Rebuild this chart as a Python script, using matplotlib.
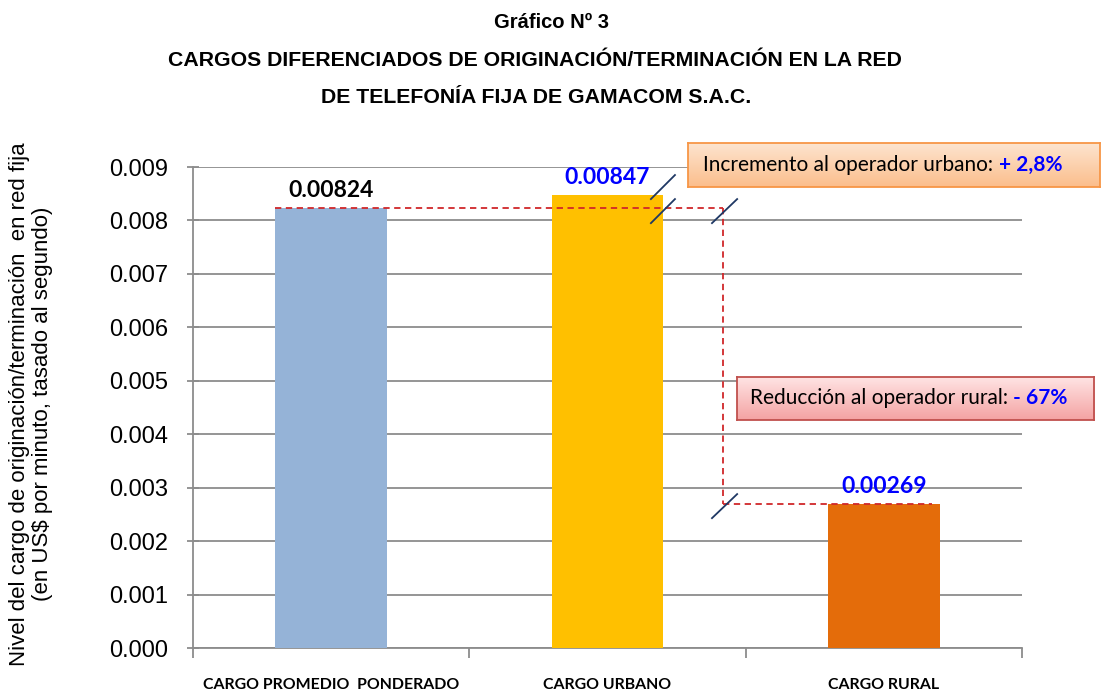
import matplotlib
matplotlib.use('Agg')
import matplotlib.pyplot as plt
import numpy as np

categorias = ['CARGO PROMEDIO  PONDERADO', 'CARGO URBANO', 'CARGO RURAL']
cargos = [0.00824, 0.00847, 0.00269]
etiquetas = ['0.00824', '0.00847', '0.00269']
colores_etiqueta = ['black', '#0000FF', '#0000FF']
colores = ['#95B3D7', '#FFC000', '#E46C0A']
yticks = np.arange(0, 0.0091, 0.001)

fig = plt.figure(figsize=(11.01, 6.95), dpi=100)
ax = fig.add_axes([0.1753, 0.0676, 0.7530, 0.6921])

x = np.arange(len(categorias))
ax.bar(x, cargos, width=0.405, color=colores, zorder=3)
ax.set_xlim(-0.5, 2.5)
ax.set_ylim(0, 0.009)
ax.set_yticks(yticks)
ax.set_yticklabels(['%.3f' % v for v in yticks], fontsize=17, family='Liberation Sans')
ax.yaxis.grid(True, color='#8c8c8c', lw=1.3, zorder=0)
ax.tick_params(axis='y', length=8, width=1.3, color='#8c8c8c', pad=14, direction='inout')

ax.set_xticks([-0.5, 0.5, 1.5, 2.5])
ax.set_xticklabels([])
ax.tick_params(axis='x', length=7, width=1.3, color='#8c8c8c')
for xi, c in zip(x, categorias):
    ax.text(xi, -0.0007, c, ha='center', va='center', fontsize=11.4,
            fontweight='bold', family='Lato', color='black')

for s in ['top', 'right']:
    ax.spines[s].set_visible(False)
for s in ['left', 'bottom']:
    ax.spines[s].set_color('#8c8c8c')
    ax.spines[s].set_linewidth(1.3)

for xi, v, t, c in zip(x, cargos, etiquetas, colores_etiqueta):
    ax.annotate(t, (xi, v), xytext=(0, 5), textcoords='offset points',
                ha='center', va='bottom', fontsize=16.5, fontweight='bold',
                family='Lato', color=c, zorder=5)

# lineas de referencia
xv = 1.418
ax.plot([-0.2025, xv], [cargos[0], cargos[0]], ls=(0, (3.5, 2.5)), color='#D0272A', lw=1.3, zorder=4)
ax.plot([xv, xv], [cargos[0], cargos[2]], ls=(0, (3.5, 2.5)), color='#D0272A', lw=1.3, zorder=4)
ax.plot([xv, 2.174], [cargos[2], cargos[2]], ls=(0, (3.5, 2.5)), color='#D0272A', lw=1.3, zorder=4)

# marcas diagonales
for x0, x1, y0, y1 in [(1.157, 1.244, 0.00840, 0.00885),
                       (1.157, 1.244, 0.00795, 0.00840),
                       (1.378, 1.469, 0.00795, 0.00840),
                       (1.378, 1.469, 0.00243, 0.00288)]:
    ax.plot([x0, x1], [y0, y1], color='#1F3864', lw=1.3, zorder=6, clip_on=False)

fig.text(31 / 1101, 1 - 404 / 695,
         'Nivel del cargo de originación/terminación  en red fija\n(en US$ por minuto, tasado al segundo)',
         rotation=90, ha='center', va='center', multialignment='center',
         fontsize=16, family='Liberation Sans', linespacing=1.15)

# titulos
fig.text(0.5005, 0.968, 'Gráfico Nº 3', ha='center', va='center', fontsize=14.5,
         fontweight='bold', family='Liberation Sans')
fig.text(0.486, 0.913, 'CARGOS DIFERENCIADOS DE ORIGINACIÓN/TERMINACIÓN EN LA RED', ha='center',
         va='center', fontsize=15.3, fontweight='bold', family='Liberation Sans')
fig.text(0.487, 0.860, 'DE TELEFONÍA FIJA DE GAMACOM S.A.C.', ha='center', va='center',
         fontsize=15.3, fontweight='bold', family='Liberation Sans')


def caja(rect, top, bottom, borde, texto, valor):
    bx = fig.add_axes(rect)
    grad = np.linspace(0, 1, 64).reshape(-1, 1)
    c0 = np.array(matplotlib.colors.to_rgb(top))
    c1 = np.array(matplotlib.colors.to_rgb(bottom))
    img = c0 + (c1 - c0) * grad[:, :, None]
    bx.imshow(img, aspect='auto', extent=[0, 1, 0, 1], origin='upper')
    bx.set_xticks([])
    bx.set_yticks([])
    for s in bx.spines.values():
        s.set_color(borde)
        s.set_linewidth(1.3)
    t1 = bx.text(0.037, 0.5, texto, ha='left', va='center', fontsize=15, family='Lato',
                 transform=bx.transAxes)
    fig.canvas.draw()
    bb = t1.get_window_extent().transformed(bx.transAxes.inverted())
    bx.text(bb.x1, 0.5, valor, ha='left', va='center', fontsize=15, family='Lato',
            fontweight='bold', color='#0000FF', transform=bx.transAxes)


caja([0.625, 0.731, 0.374, 0.0633], '#FDE4CF', '#FBBE8C', '#F79646',
     'Incremento al operador urbano: ', '+ 2,8%')
caja([0.669, 0.3957, 0.325, 0.0619], '#FFE5E5', '#F4A3A3', '#C0504D',
     'Reducción al operador rural: ', '- 67%')

fig.savefig('out.png', dpi=100)
